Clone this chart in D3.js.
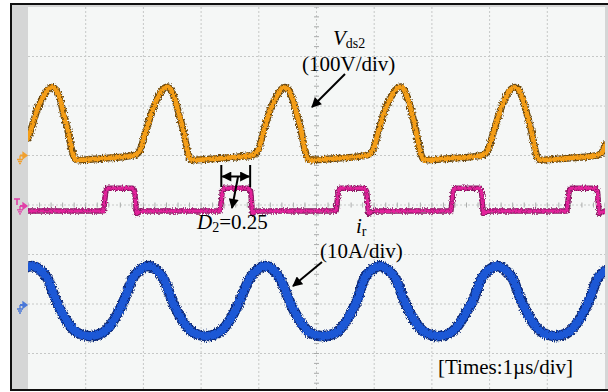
<!DOCTYPE html>
<html><head><meta charset="utf-8">
<script src="https://cdn.jsdelivr.net/npm/d3@7"></script>
<style>html,body{margin:0;padding:0;background:#fff;} svg{display:block;}</style>
</head><body><svg id="scope" width="608" height="392"></svg>
<script>
// Horizontal: 1 µs/div over 10 divisions; vertical: 8 divisions
const timeTicks = d3.range(0, 11);
const divTicks = d3.range(-4, 5);

// Vds2 drain-source voltage, V (100 V/div)
const vdsTime = [0.00,0.05,0.17,0.28,0.35,0.42,0.49,0.56,0.62,0.69,0.76,0.82,0.88,1.28,1.63,
  1.85,1.94,2.05,2.17,2.27,2.34,2.41,2.48,2.55,2.62,2.69,2.76,2.81,2.88,3.28,3.62,
  3.90,3.99,4.09,4.21,4.32,4.39,4.45,4.52,4.59,4.66,4.73,4.80,4.85,4.92,5.32,5.67,
  5.89,5.98,6.08,6.20,6.31,6.38,6.45,6.52,6.59,6.66,6.72,6.79,6.85,6.92,7.31,7.66,
  7.89,7.97,8.08,8.20,8.30,8.37,8.44,8.51,8.58,8.65,8.72,8.79,8.84,8.91,9.31,9.65,
  9.88,9.97,10.00];
const vdsValue = [35,52,96,122,134,138,132,112,82,52,11,-7,-9,-6,-3,
  1,11,52,96,122,134,139,132,112,82,52,11,-7,-9,-6,-3,
  1,11,52,96,122,134,138,132,112,82,52,11,-7,-9,-6,-3,
  1,11,52,96,122,134,139,132,112,82,52,11,-7,-9,-6,-3,
  1,11,52,96,122,134,138,132,112,82,52,11,-7,-9,-6,-3,
  1,11,22];

// Pulse channel: edge times (µs) and levels
const pulseRise = [1.33, 3.35, 5.36, 7.35, 9.36];
const pulseFall = [1.84, 3.85, 5.86, 7.85, 9.86];
const pulseLow = 0, pulseHigh = 4.6;

// Resonant current i_r, A (10 A/div)
const irTime = [0.00,0.07,0.21,0.35,0.47,0.59,0.73,0.87,1.07,1.28,1.42,1.56,1.68,1.80,1.94,
  2.08,2.22,2.36,2.48,2.60,2.74,2.88,3.08,3.29,3.43,3.57,3.69,3.83,3.97,
  4.11,4.25,4.38,4.51,4.63,4.77,4.90,5.11,5.32,5.46,5.60,5.72,5.82,5.96,
  6.10,6.24,6.38,6.50,6.62,6.76,6.90,7.11,7.31,7.45,7.59,7.73,7.85,7.99,
  8.13,8.27,8.41,8.53,8.65,8.79,8.93,9.13,9.34,9.48,9.62,9.74,9.86,10.00];
const irValue = [7.7,7.9,7.1,5.1,1.4,-1.6,-4.2,-5.7,-6.3,-5.7,-4.2,-1.6,1.4,5.1,7.1,
  7.9,7.1,5.1,1.4,-1.6,-4.2,-5.7,-6.3,-5.7,-4.2,-1.6,1.4,5.1,7.1,
  7.9,7.1,5.1,1.4,-1.6,-4.2,-5.7,-6.3,-5.7,-4.2,-1.6,1.4,5.1,7.1,
  7.9,7.1,5.1,1.4,-1.6,-4.2,-5.7,-6.3,-5.7,-4.2,-1.6,1.4,5.1,7.1,
  7.9,7.1,5.1,1.4,-1.6,-4.2,-5.7,-6.3,-5.7,-4.2,-1.6,1.4,5.1,6.9];

// Channel vertical settings (units per division, ground offset in divisions)
const vdsScale = 100, vdsOffset = 1.0;
const pulseScale = 10, pulseOffset = -0.12;
const irScale = 10, irOffset = -2.02;

const svg = d3.select("#scope");
const W = 608, H = 392;
const x = d3.scaleLinear().domain([0, 10]).range([28, 605]);
const yDiv = d3.scaleLinear().domain([-4, 4]).range([403, 7]);

const defs = svg.append("defs");
defs.append("clipPath").attr("id", "plotClip").append("rect")
  .attr("x", x(0)).attr("y", 7).attr("width", x(10) - x(0)).attr("height", 383);
const f = defs.append("filter").attr("id", "grain")
  .attr("filterUnits", "userSpaceOnUse").attr("x", 0).attr("y", 0).attr("width", W).attr("height", H);
f.append("feTurbulence").attr("type", "fractalNoise").attr("baseFrequency", "0.9 0.5")
  .attr("numOctaves", 2).attr("seed", 7).attr("result", "n");
f.append("feDisplacementMap").attr("in", "SourceGraphic").attr("in2", "n")
  .attr("scale", 4.5).attr("xChannelSelector", "R").attr("yChannelSelector", "G");
defs.append("marker").attr("id", "head").attr("viewBox", "0 0 10 10")
  .attr("refX", 9).attr("refY", 5).attr("markerWidth", 5.5).attr("markerHeight", 5)
  .attr("markerUnits", "strokeWidth").attr("orient", "auto-start-reverse")
  .append("path").attr("d", "M0,0L10,5L0,10Z").attr("fill", "#000");

// Screen frame and side strips
svg.append("rect").attr("x", 12).attr("y", 5).attr("width", 600).attr("height", 385).attr("fill", "#d5d6d6");
svg.append("rect").attr("x", x(0)).attr("y", 7).attr("width", x(10) - x(0)).attr("height", 383).attr("fill", "#f5f7f6");

// Grid
const grid = svg.append("g").attr("clip-path", "url(#plotClip)")
  .attr("stroke", "#c6c8c7").attr("stroke-width", 1).attr("stroke-dasharray", "2,2");
grid.selectAll(".gv").data(timeTicks.slice(1, -1)).join("line")
  .attr("x1", d => x(d)).attr("x2", d => x(d)).attr("y1", 7).attr("y2", 403);
grid.selectAll(".gh").data(divTicks.slice(1, -1)).join("line")
  .attr("y1", d => yDiv(d)).attr("y2", d => yDiv(d)).attr("x1", x(0)).attr("x2", x(10));

// Minor ticks on the centre axes
const minorX = d3.range(0, 10.01, 0.2), minorY = d3.range(-4, 4.01, 0.2);
const tk = svg.append("g").attr("clip-path", "url(#plotClip)").attr("stroke", "#a9abaa").attr("stroke-width", 1);
tk.selectAll(".mx").data(minorX).join("line")
  .attr("x1", d => x(d)).attr("x2", d => x(d)).attr("y1", yDiv(0) - 2.5).attr("y2", yDiv(0) + 2.5);
tk.selectAll(".my").data(minorY).join("line")
  .attr("y1", d => yDiv(d)).attr("y2", d => yDiv(d)).attr("x1", x(5) - 2.5).attr("x2", x(5) + 2.5);

// Traces
const traces = svg.append("g").attr("clip-path", "url(#plotClip)");
function drawTrace(pts, offset, scale, color, dark, width, curve) {
  const line = d3.line().x(d => x(d[0])).y(d => yDiv(offset + d[1] / scale)).curve(curve);
  const g = traces.append("g").attr("filter", "url(#grain)").attr("fill", "none")
    .attr("stroke-linejoin", "round").attr("stroke-linecap", "round");
  g.append("path").attr("d", line(pts)).attr("stroke", dark).attr("stroke-width", width + 2.5);
  g.append("path").attr("d", line(pts)).attr("stroke", color).attr("stroke-width", width);
}
const vdsPts = vdsTime.map((t, i) => [t, vdsValue[i]]);
const irPts = irTime.map((t, i) => [t, irValue[i]]);
const pulsePts = [[0, pulseLow]];
pulseRise.forEach((r, i) => {
  const fl = pulseFall[i];
  pulsePts.push([r - 0.02, pulseLow], [r + 0.02, pulseHigh * 0.9], [r + 0.05, pulseHigh],
    [fl - 0.03, pulseHigh], [fl + 0.01, pulseHigh * 0.85], [fl + 0.04, pulseLow - 0.5],
    [fl + 0.10, pulseLow - 0.2], [fl + 0.16, pulseLow]);
});
pulsePts.push([10, pulseLow]);

drawTrace(vdsPts, vdsOffset, vdsScale, "#f49d16", "#6b4a12", 4.5, d3.curveMonotoneX);
drawTrace(pulsePts, pulseOffset, pulseScale, "#e2229b", "#8a1a63", 3, d3.curveLinear);
drawTrace(irPts, irOffset, irScale, "#1e58d6", "#0d2a78", 8, d3.curveMonotoneX);

// Channel ground markers on the left strip
function groundMarker(gy, color, trig) {
  const g = svg.append("g").attr("stroke", color).attr("fill", "none").attr("stroke-width", 1.3);
  g.append("path").attr("d", `M20,${gy}L24,${gy}`).attr("stroke-width", 2);
  g.append("path").attr("d", `M23,${gy - 3}L27,${gy}L23,${gy + 3}Z`).attr("fill", color);
  g.append("path").attr("d", `M20,${gy}L20,${gy + 4}M17,${gy + 4}L23,${gy + 4}M18,${gy + 6}L22,${gy + 6}M19,${gy + 8}L21,${gy + 8}`);
  if (trig) g.append("path").attr("d", `M14,${gy - 7}L20,${gy - 7}M17,${gy - 7}L17,${gy - 1}`).attr("stroke-width", 1.6);
}
groundMarker(yDiv(vdsOffset), "#f0a030", false);
groundMarker(yDiv(pulseOffset) - 5, "#e040a8", true);
groundMarker(yDiv(irOffset), "#4a78d8", false);

// Outer frame
svg.append("rect").attr("x", 11).attr("y", 4).attr("width", 610).attr("height", 386)
  .attr("fill", "none").attr("stroke", "#111").attr("stroke-width", 2);

// Annotations
const ann = svg.append("g").attr("font-family", "'Liberation Serif', 'Times New Roman', serif")
  .attr("font-size", 21).attr("fill", "#000");
const t1 = ann.append("text").attr("x", 333).attr("y", 45);
t1.append("tspan").attr("font-style", "italic").text("V");
t1.append("tspan").attr("font-size", 14).attr("dy", 3).text("ds2");
ann.append("text").attr("x", 302).attr("y", 71).text("(100V/div)");

const t2 = ann.append("text").attr("x", 197).attr("y", 229);
t2.append("tspan").attr("font-style", "italic").text("D");
t2.append("tspan").attr("font-size", 14).attr("dy", 3).text("2");
t2.append("tspan").attr("dy", -3).text("=0.25");

const t3 = ann.append("text").attr("x", 356).attr("y", 233);
t3.append("tspan").attr("font-style", "italic").text("i");
t3.append("tspan").attr("font-size", 14).attr("dy", 3).text("r");
ann.append("text").attr("x", 320).attr("y", 258).text("(10A/div)");

ann.append("text").attr("x", 438).attr("y", 374).text("[Times:1µs/div]");

// Arrows
const arr = svg.append("g").attr("stroke", "#000").attr("stroke-width", 2).attr("fill", "none");
arr.append("line").attr("x1", 345).attr("y1", 74).attr("x2", 312).attr("y2", 107).attr("marker-end", "url(#head)");
arr.append("line").attr("x1", 322).attr("y1", 262).attr("x2", 293).attr("y2", 286).attr("marker-end", "url(#head)");
// Duty-cycle bracket over the second pulse
const xa = x(pulseRise[1]), xb = x(pulseFall[1]);
arr.append("line").attr("x1", xa).attr("x2", xa).attr("y1", 165).attr("y2", 187);
arr.append("line").attr("x1", xb).attr("x2", xb).attr("y1", 165).attr("y2", 187);
arr.append("line").attr("x1", xa + 1).attr("x2", xb - 1).attr("y1", 176.5).attr("y2", 176.5)
  .attr("marker-start", "url(#head)").attr("marker-end", "url(#head)");
arr.append("line").attr("x1", 238).attr("y1", 177).attr("x2", 232).attr("y2", 208).attr("marker-end", "url(#head)");
</script></body></html>
